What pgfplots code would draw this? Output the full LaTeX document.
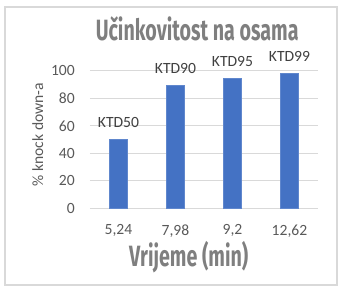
\documentclass[border=0pt]{standalone}
\usepackage{fontspec}
\setmainfont{Carlito}
\newfontfamily\condfont[FakeStretch=0.67]{Fira Sans}
\usepackage{pgfplots}
\pgfplotsset{compat=1.18}
\definecolor{barblue}{HTML}{4472C4}
\definecolor{gridgray}{HTML}{D9D9D9}
\definecolor{ticktext}{HTML}{595959}
\definecolor{labeltext}{HTML}{404040}
\definecolor{titlegray}{HTML}{7F7F7F}
\begin{document}
\begin{tikzpicture}
\path[use as bounding box] (-67.5pt,-62.625pt) rectangle (190.5pt,156.375pt);
\draw[gridgray, line width=0.9pt] (-63.75pt,-57.4pt) rectangle (185.25pt,151.1pt);
\begin{axis}[
  at={(0pt,0pt)}, anchor=south west,
  scale only axis,
  width=171pt, height=103.3pt,
  xmin=-0.5, xmax=3.5,
  ymin=0, ymax=100,
  ytick={0,20,40,60,80,100},
  xtick=data,
  xticklabels={{5,24},{7,98},{9,2},{12,62}},
  axis lines*=left,
  axis line style={draw=none},
  ymajorgrids,
  grid style={gridgray, line width=0.75pt},
  major tick length=0pt,
  tick style={draw=none},
  clip=false,
  ybar,
  bar width=13.5pt,
  /pgf/number format/assume math mode=true,
  tick label style={font=\fontsize{11.7}{14}\selectfont, text=ticktext},
  yticklabel style={anchor=east, inner sep=0pt, xshift=-11.25pt},
  xticklabel style={anchor=north, inner sep=0pt, yshift=-12pt},
  ylabel={\% knock down-a},
  ylabel style={at={(axis description cs:-0.2061,0.537)}, anchor=base, font=\fontsize{11.7}{14}\selectfont, text=ticktext},
  xlabel={\condfont\bfseries Vrijeme (min)},
  xlabel style={at={(axis description cs:0.4330,-0.4226)}, anchor=base, font=\fontsize{22}{26}\selectfont, text=titlegray},
  every axis title shift=0pt,
  title={\condfont\bfseries Učinkovitost na osama},
  title style={at={(axis description cs:0.470,1.218)}, anchor=base, font=\fontsize{22}{26}\selectfont, text=titlegray},
  nodes near coords,
  point meta=explicit symbolic,
  every node near coord/.append style={anchor=base, inner sep=0pt, yshift=9pt, font=\fontsize{11.7}{14}\selectfont, text=labeltext},
]
\draw[gridgray, line width=0.9pt] (axis cs:-0.5,0) -- (axis cs:3.5,0);
\addplot[fill=barblue, draw=barblue!85!white, line width=0.4pt] coordinates {
  (0,50) [KTD50]
  (1,89.6) [KTD90]
  (2,94.5) [KTD95]
  (3,98) [KTD99]
};
\end{axis}
\end{tikzpicture}
\end{document}
